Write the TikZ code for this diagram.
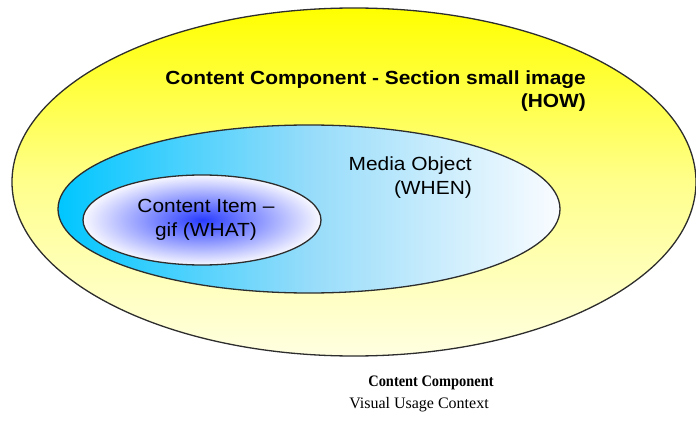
\documentclass[tikz,border=0pt]{standalone}
\usepackage{fontspec}
\setmainfont{Liberation Serif}
\setsansfont{Liberation Sans}
\newfontfamily\widesans[FakeStretch=1.1,Ligatures=TeX]{Liberation Sans}
\newfontfamily\narrowserif[FakeStretch=0.9,Ligatures=TeX]{Liberation Serif}
\definecolor{outline}{RGB}{45,45,45}
\definecolor{yelTop}{RGB}{255,255,0}
\definecolor{yelMid}{RGB}{255,255,140}
\definecolor{yelBot}{RGB}{255,255,225}
\definecolor{cyanL}{RGB}{0,198,255}
\definecolor{cyanM}{RGB}{150,220,250}
\definecolor{cyanR}{RGB}{250,252,255}
\definecolor{blueC}{RGB}{40,60,255}
\definecolor{blueE}{RGB}{248,248,255}
\begin{document}
\begin{tikzpicture}[x=1pt,y=-1pt,
  ring/.style={draw=outline, line width=1.3pt},
  lbl/.style={font=\widesans\fontsize{19}{24}\selectfont, inner sep=0pt, align=right},
  captext/.style={font=\rmfamily\fontsize{16}{20}\selectfont, inner sep=0pt}]
\useasboundingbox (0,0) rectangle (696,433);
\path[ring, top color=yelTop, bottom color=yelBot, middle color=yelMid]
  (354,182) ellipse [x radius=342, y radius=174];
\node[lbl, font=\widesans\bfseries\fontsize{19}{23}\selectfont, anchor=north east] (outer) at (586,71)
  {Content Component - Section small image\\(HOW)};
\path[ring, left color=cyanL, right color=cyanR, middle color=cyanM]
  (309,209) ellipse [x radius=251, y radius=84];
\node[lbl, anchor=north east] (media) at (472,157) {Media Object\\(WHEN)};
\path[ring, shading=radial, inner color=blueC, outer color=blueE]
  (202,220) ellipse [x radius=119, y radius=45];
\node[lbl, align=center, anchor=center] (item) at (206,220) {Content Item --\\gif (WHAT)};
\node[captext, font=\narrowserif\bfseries\fontsize{16}{20}\selectfont] (capA) at (431,383) {Content Component};
\node[captext] (capB) at (419,405) {Visual Usage Context};
\end{tikzpicture}
\end{document}
